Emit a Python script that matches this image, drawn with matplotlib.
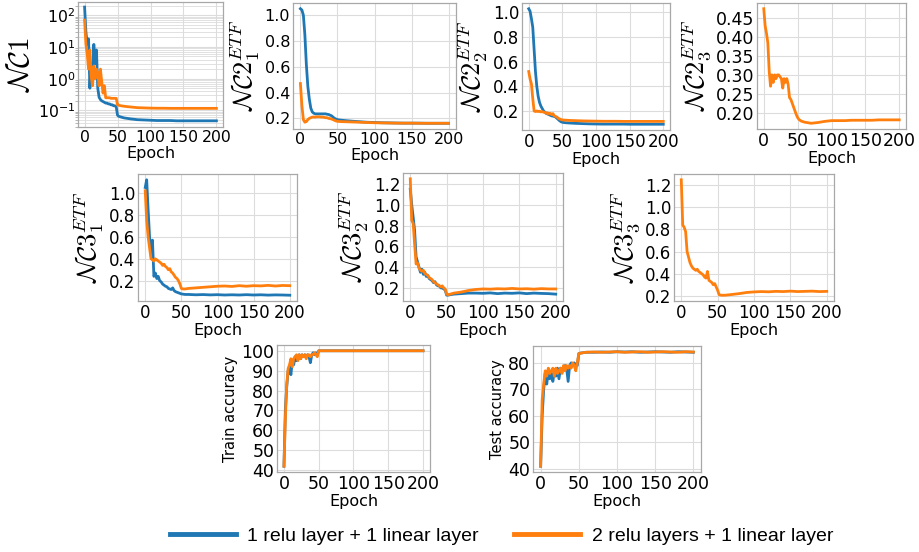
import matplotlib
matplotlib.use('Agg')
import matplotlib.pyplot as plt
from matplotlib.ticker import MultipleLocator, LogLocator, NullFormatter
import numpy as np

plt.rcParams['font.family'] = 'DejaVu Sans'

W, H = 919, 552

BLUE = '#1f77b4'
ORANGE = '#ff7f0e'

epochs = [0, 2, 4, 6, 8, 10, 12, 14, 16, 18, 20, 22, 24, 26, 28, 30, 32, 34, 36, 38,
          40, 42, 44, 46, 48, 50, 52, 55, 60, 70, 80, 90, 100, 110, 120, 130, 140,
          150, 160, 170, 180, 190, 200]

nc1_blue = [180, 30, 12, 18, 0.5, 3, 1.5, 12, 3, 8, 0.5, 0.26, 0.22, 0.2, 0.19, 0.18,
            0.17, 0.17, 0.16, 0.16, 0.15, 0.15, 0.14, 0.14, 0.13, 0.07,
            0.065, 0.062, 0.058, 0.054, 0.051, 0.05, 0.049,
            0.048, 0.048, 0.048, 0.047, 0.047, 0.047, 0.047, 0.047, 0.047, 0.047]
nc1_orange = [70, 12, 6, 2, 8, 1.2, 0.6, 2.5, 1.0, 2.0, 1.5, 0.6, 2.0, 0.8, 0.35, 0.6,
              0.25, 0.25, 0.25, 0.25, 0.24, 0.24, 0.24, 0.24, 0.24, 0.15,
              0.145, 0.14, 0.135, 0.128, 0.122, 0.12, 0.118,
              0.117, 0.117, 0.116, 0.116, 0.116, 0.116, 0.116, 0.116, 0.116, 0.116]

nc2_1_blue = [1.05, 1.04, 1.0, 0.85, 0.62, 0.45, 0.35, 0.28, 0.25, 0.24, 0.235, 0.235,
              0.235, 0.235, 0.235, 0.235, 0.235, 0.235, 0.232, 0.23, 0.225, 0.22, 0.21,
              0.2, 0.195, 0.19,
              0.188, 0.186, 0.183, 0.178, 0.174, 0.17, 0.168,
              0.166, 0.165, 0.164, 0.163, 0.163, 0.163, 0.162, 0.162, 0.162, 0.162]
nc2_1_orange = [0.47, 0.3, 0.19, 0.17, 0.175, 0.19, 0.2, 0.205, 0.21, 0.21, 0.21, 0.212,
                0.212, 0.212, 0.21, 0.21, 0.208, 0.205, 0.205, 0.2, 0.198, 0.195, 0.19,
                0.185, 0.18, 0.177,
                0.176, 0.175, 0.174, 0.172, 0.17, 0.168, 0.166,
                0.165, 0.164, 0.163, 0.163, 0.163, 0.162, 0.162, 0.162, 0.162, 0.162]

nc2_2_blue = [1.03, 1.01, 0.95, 0.88, 0.7, 0.52, 0.4, 0.32, 0.27, 0.24, 0.22, 0.2, 0.19,
              0.18, 0.175, 0.17, 0.165, 0.16, 0.158, 0.155, 0.15, 0.14, 0.13, 0.12,
              0.112, 0.108,
              0.106, 0.104, 0.102, 0.099, 0.097, 0.095, 0.094,
              0.093, 0.093, 0.093, 0.093, 0.092, 0.092, 0.092, 0.092, 0.092, 0.092]
nc2_2_orange = [0.52, 0.46, 0.42, 0.3, 0.2, 0.195, 0.2, 0.195, 0.198, 0.192, 0.195, 0.19,
                0.188, 0.18, 0.185, 0.175, 0.18, 0.17, 0.178, 0.16, 0.155, 0.15, 0.14,
                0.135, 0.13, 0.127,
                0.126, 0.125, 0.123, 0.121, 0.119, 0.118, 0.117,
                0.116, 0.116, 0.116, 0.115, 0.115, 0.115, 0.115, 0.115, 0.115, 0.115]

nc2_3_orange = [0.475, 0.43, 0.41, 0.385, 0.31, 0.27, 0.30, 0.28, 0.30, 0.29, 0.30, 0.30,
                0.295, 0.29, 0.265, 0.29, 0.28, 0.29, 0.275, 0.24, 0.235, 0.225, 0.215,
                0.205, 0.195, 0.187,
                0.182, 0.178, 0.175, 0.172, 0.174, 0.177, 0.179,
                0.179, 0.179, 0.18, 0.18, 0.18, 0.18, 0.181, 0.181, 0.181, 0.181]

nc3_1_blue = [1.05, 1.12, 0.85, 0.6, 0.45, 0.57, 0.24, 0.27, 0.22, 0.24, 0.2, 0.19, 0.17,
              0.16, 0.15, 0.145, 0.13, 0.125, 0.12, 0.135, 0.11, 0.1, 0.095, 0.09,
              0.085, 0.08,
              0.078, 0.075, 0.075, 0.072, 0.074, 0.071, 0.073,
              0.07, 0.072, 0.07, 0.073, 0.07, 0.072, 0.069, 0.071, 0.07, 0.068]
nc3_1_orange = [1.02, 0.75, 0.6, 0.5, 0.4, 0.39, 0.38, 0.4, 0.39, 0.38, 0.37, 0.36, 0.34,
                0.35, 0.33, 0.32, 0.3, 0.31, 0.28, 0.27, 0.25, 0.23, 0.22, 0.2, 0.17, 0.13,
                0.125, 0.125, 0.13, 0.135, 0.14, 0.145, 0.15,
                0.152, 0.148, 0.155, 0.15, 0.155, 0.153, 0.158, 0.152, 0.157, 0.155]

nc3_2_blue = [1.15, 1.0, 0.88, 0.75, 0.5, 0.45, 0.4, 0.35, 0.38, 0.33, 0.35, 0.31, 0.32,
              0.29, 0.28, 0.27, 0.25, 0.26, 0.23, 0.22, 0.22, 0.2, 0.2, 0.19, 0.18, 0.13,
              0.13, 0.135, 0.14, 0.145, 0.15, 0.15, 0.148,
              0.152, 0.145, 0.15, 0.148, 0.152, 0.145, 0.15, 0.147, 0.145, 0.14]
nc3_2_orange = [1.25, 0.85, 0.82, 0.62, 0.43, 0.44, 0.39, 0.37, 0.36, 0.37, 0.34, 0.33,
                0.32, 0.3, 0.29, 0.28, 0.26, 0.25, 0.24, 0.23, 0.22, 0.21, 0.22, 0.2, 0.19,
                0.14,
                0.135, 0.14, 0.15, 0.16, 0.175, 0.185, 0.19,
                0.188, 0.192, 0.19, 0.195, 0.19, 0.192, 0.188, 0.193, 0.19, 0.19]

nc3_3_orange = [1.25, 0.84, 0.82, 0.78, 0.6, 0.55, 0.5, 0.47, 0.45, 0.44, 0.43, 0.44, 0.42,
                0.41, 0.4, 0.39, 0.37, 0.36, 0.42, 0.34, 0.33, 0.32, 0.3, 0.31, 0.28, 0.25,
                0.21, 0.205, 0.205, 0.212, 0.22, 0.23, 0.235,
                0.238, 0.236, 0.24, 0.238, 0.242, 0.238, 0.24, 0.242, 0.238, 0.24]

train_blue = [42, 70, 82, 90, 92, 88, 95, 93, 97, 95, 97, 98, 96, 98, 97, 98, 97, 98, 97,
              94, 98, 99, 98, 99, 98, 100,
              100, 100, 100, 100, 100, 100, 100, 100, 100, 100, 100, 100, 100, 100, 100, 100, 100]
train_orange = [42, 66, 83, 91, 93, 96, 92, 96, 97, 98, 95, 98, 96, 98, 97, 98, 96, 98, 98,
                97, 98, 98, 99, 98, 97, 100,
                100, 100, 100, 100, 100, 100, 100, 100, 100, 100, 100, 100, 100, 100, 100, 100, 100]

test_blue = [41, 60, 70, 76, 72, 77, 74, 76, 73, 77, 75, 78, 74, 78, 77, 78, 79, 78, 73, 79,
             80, 79, 80, 79, 79, 83.5,
             83.7, 83.8, 84, 84, 84.1, 84, 84.2, 84.1, 84.2, 84, 84.1, 84.2, 84.1, 84, 84.2, 84.1, 84]
test_orange = [41, 66, 72, 77, 75, 78, 76, 77, 78, 75, 78, 76, 77, 78, 76, 79, 77, 79, 78,
               79, 78, 80, 79, 77, 80, 83.5,
               83.6, 83.8, 84, 84.1, 84, 84.1, 84.2, 84, 84.1, 84.2, 84, 84.1, 84.2, 84.1, 84, 84.2, 84.1]

legend_labels = ['1 relu layer + 1 linear layer', '2 relu layers + 1 linear layer']


def add_ax(fig, left, top, right, bottom):
    """axes from pixel box (left, top, right, bottom)"""
    return fig.add_axes([left / W, 1 - bottom / H, (right - left) / W, (bottom - top) / H])


def style(ax, ylabel, ystep=None, ysize=19, tsize=12.5, mathfont='cm'):
    ax.grid(True, color='#dcdcdc', lw=0.8)
    ax.set_axisbelow(True)
    for s in ax.spines.values():
        s.set_color('#a8a8a8')
        s.set_linewidth(0.9)
    ax.tick_params(axis='both', which='major', labelsize=tsize, length=0, pad=2)
    ax.set_xticks([0, 50, 100, 150, 200])
    if ystep is not None:
        ax.yaxis.set_major_locator(MultipleLocator(ystep))
    ax.set_xlabel('Epoch', fontsize=11.5, labelpad=1)
    ax.set_ylabel(ylabel, fontsize=ysize, labelpad=2, math_fontfamily=mathfont)


fig = plt.figure(figsize=(W / 100, H / 100), dpi=100)
fig.patch.set_facecolor('white')

lw = 2

# row 1
ax1 = add_ax(fig, 78, 2, 223, 127)
l1, = ax1.plot(epochs, nc1_blue, color=BLUE, lw=lw)
l2, = ax1.plot(epochs, nc1_orange, color=ORANGE, lw=lw)
ax1.set_yscale('log')
ax1.set_ylim(0.03, 260)
style(ax1, r'$\mathcal{NC}1$', ysize=21, tsize=11.3)
ax1.yaxis.set_major_locator(LogLocator(base=10, numticks=10))
ax1.yaxis.set_minor_locator(LogLocator(base=10, subs=np.arange(2, 10), numticks=20))
ax1.yaxis.set_minor_formatter(NullFormatter())
ax1.grid(True, which='minor', axis='y', color='#dcdcdc', lw=0.6)
ax1.tick_params(axis='y', which='minor', length=2, color='#a8a8a8')

ax2 = add_ax(fig, 293, 3, 456, 129)
ax2.plot(epochs, nc2_1_blue, color=BLUE, lw=lw)
ax2.plot(epochs, nc2_1_orange, color=ORANGE, lw=lw)
style(ax2, r'$\mathcal{NC}2_1^{ETF}$', 0.2, tsize=11.5)

ax3 = add_ax(fig, 522, 3, 670, 130)
ax3.plot(epochs, nc2_2_blue, color=BLUE, lw=lw)
ax3.plot(epochs, nc2_2_orange, color=ORANGE, lw=lw)
style(ax3, r'$\mathcal{NC}2_2^{ETF}$', 0.2, tsize=12)

ax4 = add_ax(fig, 757, 3, 906, 129)
ax4.plot(epochs, nc2_3_orange, color=ORANGE, lw=lw)
style(ax4, r'$\mathcal{NC}2_3^{ETF}$', 0.05)

# row 2
ax5 = add_ax(fig, 138, 174, 297, 301)
ax5.plot(epochs, nc3_1_blue, color=BLUE, lw=lw)
ax5.plot(epochs, nc3_1_orange, color=ORANGE, lw=lw)
style(ax5, r'$\mathcal{NC}3_1^{ETF}$', 0.2, tsize=12)

ax6 = add_ax(fig, 403, 173, 563, 301)
ax6.plot(epochs, nc3_2_blue, color=BLUE, lw=lw)
ax6.plot(epochs, nc3_2_orange, color=ORANGE, lw=lw)
style(ax6, r'$\mathcal{NC}3_2^{ETF}$', 0.2, tsize=12)

ax7 = add_ax(fig, 674, 174, 834, 301)
ax7.plot(epochs, nc3_3_orange, color=ORANGE, lw=lw)
style(ax7, r'$\mathcal{NC}3_3^{ETF}$', 0.2, tsize=12)

# row 3
ax8 = add_ax(fig, 277, 345, 430, 472)
ax8.plot(epochs, train_blue, color=BLUE, lw=lw)
ax8.plot(epochs, train_orange, color=ORANGE, lw=lw)
style(ax8, 'Train accuracy', 10, ysize=10.5)

ax9 = add_ax(fig, 533, 346, 701, 472)
ax9.plot(epochs, test_blue, color=BLUE, lw=lw)
ax9.plot(epochs, test_orange, color=ORANGE, lw=lw)
style(ax9, 'Test accuracy', 10, ysize=10.5)

leg = fig.legend([l1, l2], legend_labels, loc='center', bbox_to_anchor=(501.5 / W, 1 - 536 / H),
                 ncol=2, frameon=False, handlelength=3.4, handletextpad=0.6, columnspacing=1.8,
                 prop={'family': 'Liberation Sans', 'size': 14})
for h in leg.legend_handles:
    h.set_linewidth(3.5)

plt.savefig('out.png', dpi=100, facecolor='white')
